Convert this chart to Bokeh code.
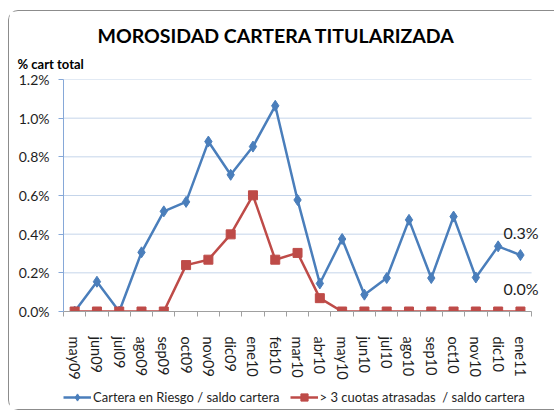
from bokeh.plotting import figure
from bokeh.layouts import column
from bokeh.models import (Range1d, FixedTicker, PrintfTickFormatter, Legend, LegendItem,
                          Title, ColumnDataSource)
from bokeh.embed import file_html
from bokeh.resources import INLINE
from bokeh.core.properties import value

months = ["may09", "jun09", "jul09", "ago09", "sep09", "oct09", "nov09", "dic09", "ene10",
          "feb10", "mar10", "abr10", "may10", "jun10", "jul10", "ago10", "sep10", "oct10",
          "nov10", "dic10", "ene11"]
riesgo = [0.0, 0.154, 0.0, 0.306, 0.518, 0.567, 0.879, 0.707, 0.853, 1.064, 0.577, 0.145,
          0.375, 0.087, 0.173, 0.474, 0.173, 0.491, 0.176, 0.337, 0.292]
atrasadas = [0.0, 0.0, 0.0, 0.0, 0.0, 0.240, 0.268, 0.399, 0.601, 0.268, 0.303, 0.069,
             0.0, 0.0, 0.0, 0.0, 0.0, 0.0, 0.0, 0.0, 0.0]
y_ticks = [0.0, 0.2, 0.4, 0.6, 0.8, 1.0, 1.2]

title_text = "MOROSIDAD CARTERA TITULARIZADA"
ylabel_text = "% cart total"
label_riesgo = "Cartera en Riesgo / saldo cartera"
label_atras = "> 3 cuotas atrasadas  / saldo cartera"

FONT = "Lato"
BLUE = "#4A7EBB"
RED = "#BE4B48"
TXT = "#1E1E1E"
GRID = "#C5D5EA"

n = len(months)
idx = list(range(n))
x_lo, x_hi = -0.5, n - 0.5

p = figure(width=545, height=374, output_backend="svg", toolbar_location=None,
           x_range=Range1d(x_lo, x_hi + 0.4), y_range=Range1d(0, 1.2),
           min_border_left=54, min_border_right=14, min_border_top=68, min_border_bottom=74)
p.outline_line_color = None
p.background_fill_color = "white"
p.border_fill_color = "white"

# titles (first added is nearest to the frame)
p.title = None
p.add_layout(Title(text=ylabel_text, align="left", offset=-46, standoff=15,
                   text_font=FONT, text_font_style="bold", text_font_size="13px",
                   text_color="black"), "above")
p.add_layout(Title(text=title_text, align="left", offset=34, standoff=0,
                   text_font=FONT, text_font_style="bold", text_font_size="19.5px",
                   text_color="black"), "above")

# grid (limited to the category span)
p.xgrid.visible = False
p.ygrid.visible = False
grid_src = ColumnDataSource(dict(x0=[x_lo] * len(y_ticks), x1=[x_hi] * len(y_ticks), y=y_ticks))
p.segment("x0", "y", "x1", "y", source=grid_src, line_color=GRID, line_width=1, level="underlay")

# y axis
p.yaxis.ticker = FixedTicker(ticks=y_ticks)
p.yaxis.formatter = PrintfTickFormatter(format="%.1f%%")
p.yaxis.axis_line_color = "#86A8D8"
p.yaxis.major_tick_line_color = "#86A8D8"
p.yaxis.major_tick_out = 5
p.yaxis.major_tick_in = 0
p.yaxis.minor_tick_line_color = None
p.yaxis.major_label_text_font = FONT
p.yaxis.major_label_text_font_size = "14px"
p.yaxis.major_label_text_color = TXT
p.yaxis.major_label_standoff = 9

# x axis
p.xaxis.bounds = (x_lo, x_hi)
p.xaxis.ticker = FixedTicker(ticks=idx, minor_ticks=[i - 0.5 for i in range(n + 1)])
p.xaxis.major_label_overrides = {i: m for i, m in enumerate(months)}
p.xaxis.major_label_orientation = "vertical"
p.xaxis.axis_line_color = "#A0A0A0"
p.xaxis.major_tick_line_color = None
p.xaxis.minor_tick_line_color = "#A0A0A0"
p.xaxis.minor_tick_out = 5
p.xaxis.minor_tick_in = 0
p.xaxis.major_label_text_font = FONT
p.xaxis.major_label_text_font_size = "14.5px"
p.xaxis.major_label_text_color = TXT
p.xaxis.major_label_standoff = 19

src = ColumnDataSource(dict(x=idx, r=riesgo, a=atrasadas))
p.line("x", "r", source=src, line_color=BLUE, line_width=2.5)
p.scatter("x", "r", source=src, marker="diamond", size=11, fill_color=BLUE, line_color=BLUE)
p.line("x", "a", source=src, line_color=RED, line_width=2.5)
p.scatter("x", "a", source=src, marker="square", size=9, fill_color=RED, line_color=RED)

# end data labels
last = n - 1
end_src = ColumnDataSource(dict(x=[last, last], y=[riesgo[-1], atrasadas[-1]],
                                t=["%.1f%%" % riesgo[-1], "%.1f%%" % atrasadas[-1]]))
p.text("x", "y", text="t", source=end_src, x_offset=-17, y_offset=-23,
       text_font=value(FONT), text_font_size="16px", text_color=TXT,
       text_align="left", text_baseline="middle")

# legend strip (separate canvas below the chart; its series lie outside its view)
lf = figure(width=545, height=24, output_backend="svg", toolbar_location=None,
            x_range=Range1d(x_hi + 100, x_hi + 101), y_range=Range1d(0, 1.2),
            x_axis_type=None, y_axis_type=None, min_border=0,
            min_border_left=0, min_border_right=0, min_border_top=0, min_border_bottom=0)
lf.outline_line_color = None
lf.xgrid.visible = False
lf.ygrid.visible = False
lf.background_fill_color = "white"
lf.border_fill_color = "white"
g1 = lf.line("x", "r", source=src, line_color=BLUE, line_width=2.5)
s1 = lf.scatter("x", "r", source=src, marker="diamond", size=11, fill_color=BLUE, line_color=BLUE)
g2 = lf.line("x", "a", source=src, line_color=RED, line_width=2.5)
s2 = lf.scatter("x", "a", source=src, marker="square", size=9, fill_color=RED, line_color=RED)

legend = Legend(items=[LegendItem(label=label_riesgo, renderers=[g1, s1]),
                       LegendItem(label=label_atras, renderers=[g2, s2])],
                location="left", orientation="horizontal",
                padding=0, margin=0, spacing=10, label_standoff=2,
                glyph_width=28, glyph_height=18,
                label_text_font=FONT, label_text_font_size="13px", label_text_color=TXT,
                border_line_color=None, background_fill_alpha=0)
lf.add_layout(legend, "center")

layout = column(p, lf, spacing=0)
layout.margin = (10, 0, 0, 8)
layout.styles = {"border": "1px solid #8C8C8C", "border-right": "none",
                 "border-radius": "10px 0 0 10px", "background": "white"}

open("out.html", "w").write(file_html(layout, INLINE))
